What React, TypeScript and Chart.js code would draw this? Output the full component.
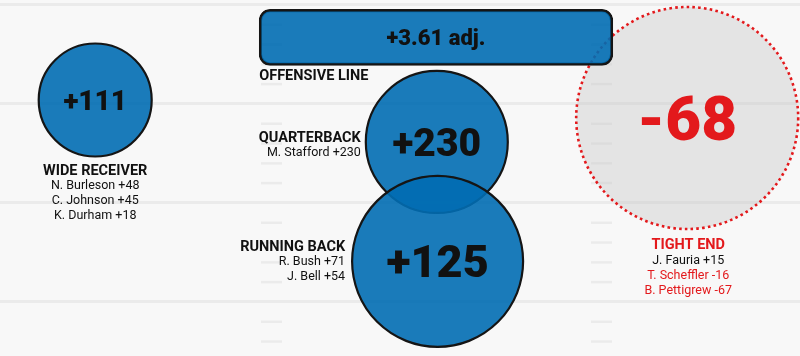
import React, { useEffect, useRef } from 'react';
import { Chart, registerables } from 'chart.js';

Chart.register(...registerables);

// ---------- data ----------
const groups = ['WIDE RECEIVER', 'QUARTERBACK', 'RUNNING BACK', 'TIGHT END'];
const groupValues = [111, 230, 125, -68];
// field position of each group (x: % of field width, y: yards from top line)
const groupX = [11.9, 54.6, 54.7, 85.9];
const groupY = [4.8, 6.92, 12.95, 5.71];

const lineGroup = 'OFFENSIVE LINE';
const lineValue = 3.61;
const lineSpanX: [number, number] = [32.4, 76.6];
const lineY = 1.64;

const wrPlayers = ['N. Burleson', 'C. Johnson', 'K. Durham'];
const wrPlayerValues = [48, 45, 18];
const qbPlayers = ['M. Stafford'];
const qbPlayerValues = [230];
const rbPlayers = ['R. Bush', 'J. Bell'];
const rbPlayerValues = [71, 54];
const tePlayers = ['J. Fauria', 'T. Scheffler', 'B. Pettigrew'];
const tePlayerValues = [15, -16, -67];

// field markings
const yardLines = [0, 5, 10, 15];
const hashYards = [1, 2, 3, 4, 6, 7, 8, 9, 11, 12, 13, 14, 16, 17];
const hashColumns = [33.94, 75.19];

// ---------- styles ----------
const bubbleRadius = [56.5, 71, 85.5, 111];
const BLUE = 'rgba(1,109,178,0.9)';
const RED = '#e3191c';
const INK = '#111111';
const FONT = 'Roboto, "DejaVu Sans", sans-serif';
const BG = '#f8f8f8';

const fmt = (v: number) => (v > 0 ? '+' : v < 0 ? '-' : '') + Math.abs(v);

const playersByGroup = [
  [wrPlayers, wrPlayerValues],
  [qbPlayers, qbPlayerValues],
  [rbPlayers, rbPlayerValues],
  [tePlayers, tePlayerValues],
] as [string[], number[]][];

const dashPlugin = {
  id: 'dotBorder',
  beforeDatasetDraw(chart: any, args: any) {
    const ds = chart.data.datasets[args.index];
    if (ds.dotted) chart.ctx.setLineDash([2.6, 3.2]);
  },
  afterDatasetDraw(chart: any) {
    chart.ctx.setLineDash([]);
  },
};

const labelPlugin = {
  id: 'fieldLabels',
  afterDatasetsDraw(chart: any) {
    const ctx = chart.ctx as CanvasRenderingContext2D;
    ctx.save();
    ctx.textBaseline = 'alphabetic';

    const bubbleMeta = chart.getDatasetMeta(3).data; // WR, QB, RB
    const teMeta = chart.getDatasetMeta(1).data;
    const els = [bubbleMeta[0], bubbleMeta[1], bubbleMeta[2], teMeta[0]];
    const valueFont = [28, 39, 45, 62];

    els.forEach((el: any, i: number) => {
      const r = bubbleRadius[i];
      const size = valueFont[i];
      ctx.font = `900 ${size}px ${FONT}`;
      ctx.textAlign = 'center';
      ctx.fillStyle = groupValues[i] < 0 ? RED : INK;
      ctx.fillText(fmt(groupValues[i]), el.x, el.y + size * 0.355);

      const [names, vals] = playersByGroup[i];
      let ax = el.x;
      let ay = el.y + r + 13;
      let align: CanvasTextAlign = 'center';
      if (i === 1) { ax = el.x - r - 5; ay = el.y - 5; align = 'right'; }
      if (i === 2) { ax = el.x - r - 7; ay = el.y - 15.5; align = 'right'; }
      if (i === 3) { ay = el.y + r + 15; ax = el.x + 1; }
      ctx.textAlign = align;
      ctx.font = `bold 14.5px ${FONT}`;
      ctx.fillStyle = groupValues[i] < 0 ? RED : INK;
      ctx.fillText(groups[i], ax, ay + 5.2);
      ctx.font = `12.5px ${FONT}`;
      names.forEach((n, k) => {
        ctx.fillStyle = vals[k] < 0 ? RED : INK;
        ctx.fillText(`${n} ${fmt(vals[k])}`, ax, ay + 15 * (k + 1) + 4.5);
      });
    });

    // offensive line
    const bar: any = chart.getDatasetMeta(2).data[0];
    const left = Math.min(bar.x, bar.base);
    const right = Math.max(bar.x, bar.base);
    ctx.font = `900 22px ${FONT}`;
    ctx.textAlign = 'center';
    ctx.fillStyle = INK;
    ctx.fillText(`+${lineValue} adj.`, (left + right) / 2, bar.y + 8);
    ctx.font = `bold 14.5px ${FONT}`;
    ctx.textAlign = 'left';
    ctx.fillText(lineGroup, left, bar.y + bar.height / 2 + 9 + 5.2);
    ctx.restore();
  },
};

export default function App() {
  const ref = useRef<HTMLCanvasElement>(null);
  useEffect(() => {
    document.body.style.margin = '0';
    document.body.style.background = BG;
    const hashData: { x: number; y: number }[] = [];
    hashColumns.forEach((x) => hashYards.forEach((y) => hashData.push({ x, y })));

    const chart = new Chart(ref.current as HTMLCanvasElement, {
      type: 'bubble',
      data: {
        datasets: [
          {
            type: 'scatter',
            label: 'hash',
            data: hashData,
            pointStyle: 'line',
            pointRadius: 10.5,
            borderColor: '#ebebeb',
            borderWidth: 2.5,
            order: 10,
          } as any,
          {
            type: 'bubble',
            label: groups[3],
            dotted: true,
            data: [{ x: groupX[3], y: groupY[3], r: bubbleRadius[3] }],
            backgroundColor: 'rgba(200,200,200,0.42)',
            borderColor: RED,
            borderWidth: 2.6,
            clip: false,
            order: 8,
          } as any,
          {
            type: 'bar',
            label: lineGroup,
            indexAxis: 'y',
            data: [{ x: lineSpanX, y: lineY }],
            barThickness: 56,
            backgroundColor: BLUE,
            borderColor: '#151515',
            borderWidth: 2.5,
            borderRadius: 11,
            borderSkipped: false,
            order: 6,
          } as any,
          {
            type: 'bubble',
            label: 'groups',
            data: [0, 1, 2].map((i) => ({ x: groupX[i], y: groupY[i], r: bubbleRadius[i] })),
            backgroundColor: BLUE,
            borderColor: '#151515',
            borderWidth: 2.2,
            clip: false,
            order: 2,
          } as any,
        ],
      },
      options: {
        animation: false,
        responsive: true,
        maintainAspectRatio: false,
        layout: { padding: 0, autoPadding: false },
        events: [],
        plugins: { legend: { display: false }, tooltip: { enabled: false } },
        scales: {
          x: { type: 'linear', min: 0, max: 100, display: false, offset: false },
          y: {
            type: 'linear',
            min: -0.25,
            max: 17.73,
            reverse: true,
            display: true,
            offset: false,
            afterBuildTicks: (s: any) => {
              s.ticks = yardLines.map((v) => ({ value: v }));
            },
            ticks: { display: false },
            border: { display: false },
            grid: { color: '#ebebeb', lineWidth: 3, drawTicks: false, offset: false },
          },
        },
      },
      plugins: [dashPlugin, labelPlugin],
    } as any);
    return () => chart.destroy();
  }, []);
  return (
    <div style={{ width: 800, height: 356, position: 'relative', background: BG }}>
      <canvas ref={ref} />
    </div>
  );
}
